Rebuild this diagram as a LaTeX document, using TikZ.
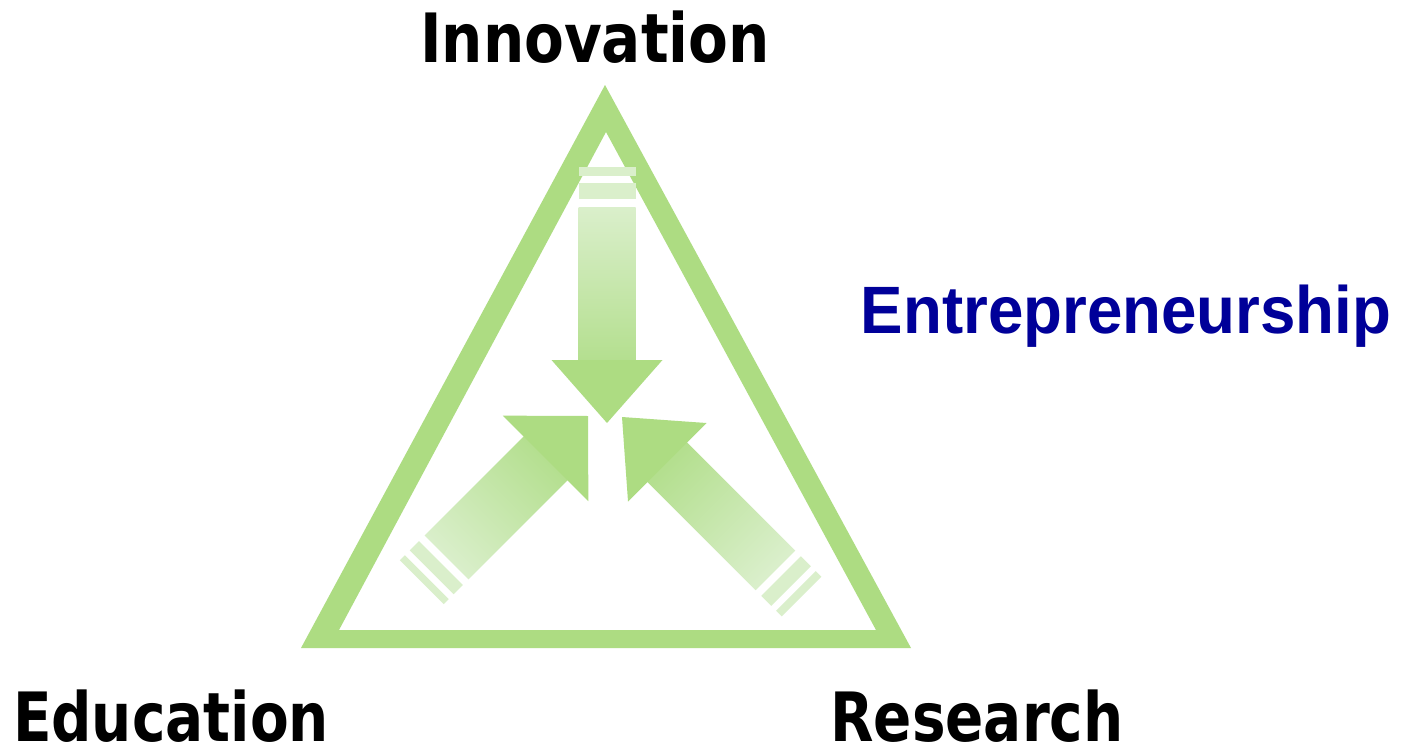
\documentclass[tikz,border=0pt]{standalone}
\usepackage{fontspec}
\newfontfamily\lblfont[FakeStretch=0.83]{DejaVu Sans}
\newfontfamily\innfont[FakeStretch=0.853]{DejaVu Sans}
\newfontfamily\entfont[FakeStretch=0.95]{Liberation Sans}
\definecolor{tri}{RGB}{173,220,130}
\definecolor{lite}{RGB}{218,239,203}
\definecolor{midg}{RGB}{180,223,143}
\definecolor{entblue}{RGB}{0,0,153}
\newcommand{\trarrow}[9]{%
 \begin{scope}[shift={#1}, rotate=#2]
  \pgfmathsetmacro\aA{#4+#3}%
  \pgfmathsetmacro\aB{\aA+8}%
  \pgfmathsetmacro\aC{\aB+#7}%
  \pgfmathsetmacro\aD{\aC+7}%
  \pgfmathsetmacro\aE{\aD+#8}%
  \shade[top color=midg, bottom color=lite, shading angle=#9] (#4-1,-#6) rectangle (\aA,#6);
  \fill[tri] (0,0) -- (#4,#5) -- (#4,-#5) -- cycle;
  \fill[lite] (\aB,-#6) rectangle (\aC,#6);
  \fill[lite] (\aD,-#6) rectangle (\aE,#6);
 \end{scope}}
\begin{document}
\begin{tikzpicture}[x=1pt,y=-1pt,
  lbl/.style={inner sep=0pt, anchor=base, text depth=0pt, font=\lblfont\bfseries\fontsize{68}{68}\selectfont},
  innlbl/.style={lbl, font=\innfont\bfseries\fontsize{68}{68}\selectfont},
  entlbl/.style={inner sep=0pt, anchor=base, text depth=0pt, text=entblue, font=\entfont\bfseries\fontsize{67}{67}\selectfont}]
\useasboundingbox[fill=white] (0,0) rectangle (1403,744);
% triangle frame
\fill[tri, even odd rule] (605,85) -- (301,648) -- (911,648) -- cycle
  (606,132) -- (339,630) -- (876,630) -- cycle;
% arrows
\trarrow{(607,423)}{90}{153}{63}{55.5}{28.5}{16}{9}{180}
\trarrow{(588,416)}{225}{140}{60}{60.5}{31}{13}{7}{-45}
\trarrow{(622,417)}{-45}{153}{64}{55.5}{28}{14}{8}{45}
% labels
\node[innlbl] (inn) at (595,62) {Innovation};
\node[lbl] (edu) at (171,741) {Education};
\node[lbl] (res) at (977,741) {Research};
\node[entlbl] (ent) at (1126,333) {Entrepreneurship};
\end{tikzpicture}
\end{document}
